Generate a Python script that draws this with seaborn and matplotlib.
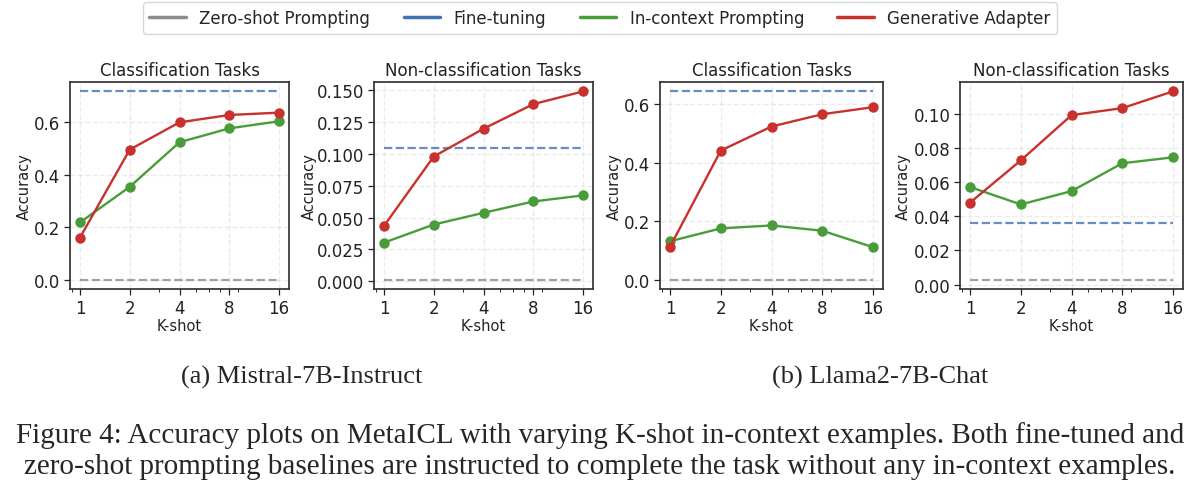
import matplotlib
matplotlib.use("Agg")
import matplotlib.pyplot as plt
from matplotlib.lines import Line2D
from matplotlib.ticker import MultipleLocator
import seaborn as sns

# K-shot values on the x axis
k_shots = [1, 2, 4, 8, 16]

# Mistral-7B-Instruct
mistral_cls_icl = [0.218, 0.354, 0.524, 0.577, 0.604]
mistral_cls_ga = [0.160, 0.496, 0.600, 0.628, 0.637]
mistral_cls_ft = 0.718
mistral_cls_zs = 0.0

mistral_gen_icl = [0.0303, 0.0445, 0.0537, 0.0626, 0.0674]
mistral_gen_ga = [0.0434, 0.0979, 0.1197, 0.1390, 0.1490]
mistral_gen_ft = 0.1047
mistral_gen_zs = 0.0013

# Llama2-7B-Chat
llama_cls_icl = [0.131, 0.175, 0.185, 0.167, 0.111]
llama_cls_ga = [0.113, 0.441, 0.523, 0.565, 0.589]
llama_cls_ft = 0.643
llama_cls_zs = 0.0

llama_gen_icl = [0.0571, 0.0469, 0.0547, 0.0710, 0.0745]
llama_gen_ga = [0.0480, 0.0727, 0.0992, 0.1033, 0.1131]
llama_gen_ft = 0.0359
llama_gen_zs = 0.0029

titles = ["Classification Tasks", "Non-classification Tasks",
          "Classification Tasks", "Non-classification Tasks"]
y_steps = [0.2, 0.025, 0.2, 0.02]
legend_labels = ["Zero-shot Prompting", "Fine-tuning",
                 "In-context Prompting", "Generative Adapter"]

C_ZS = "#8c8c8c"
C_FT = "#3f72b3"
C_ICL = "#4a9c3a"
C_GA = "#c8312e"

sns.set_theme(style="ticks")
plt.rcParams["font.family"] = ["DejaVu Sans"]

fig = plt.figure(figsize=(12, 4.89), dpi=100)

positions = [
    [70 / 1200, 199 / 489, 219 / 1200, 207 / 489],
    [374 / 1200, 199 / 489, 219 / 1200, 207 / 489],
    [660 / 1200, 199 / 489, 223 / 1200, 207 / 489],
    [960 / 1200, 199 / 489, 223 / 1200, 207 / 489],
]
ylabel_x = [-0.174, -0.26, -0.17, -0.22]

panels = [
    (mistral_cls_icl, mistral_cls_ga, mistral_cls_ft, mistral_cls_zs),
    (mistral_gen_icl, mistral_gen_ga, mistral_gen_ft, mistral_gen_zs),
    (llama_cls_icl, llama_cls_ga, llama_cls_ft, llama_cls_zs),
    (llama_gen_icl, llama_gen_ga, llama_gen_ft, llama_gen_zs),
]

for pos, title, step, lx, (icl, ga, ft, zs) in zip(positions, titles, y_steps,
                                                   ylabel_x, panels):
    ax = fig.add_axes(pos)
    ax.hlines(zs, k_shots[0], k_shots[-1], colors=C_ZS, linestyles="--",
              linewidth=1.6, alpha=0.8)
    ax.hlines(ft, k_shots[0], k_shots[-1], colors=C_FT, linestyles="--",
              linewidth=1.6, alpha=0.8)
    sns.lineplot(x=k_shots, y=icl, ax=ax, color=C_ICL, marker="o",
                 markersize=7.5, markeredgewidth=0, linewidth=1.7)
    sns.lineplot(x=k_shots, y=ga, ax=ax, color=C_GA, marker="o",
                 markersize=7.5, markeredgewidth=0, linewidth=1.7)
    ax.set_xscale("log")
    ax.set_xticks(k_shots)
    ax.set_xticklabels([str(k) for k in k_shots])
    ax.yaxis.set_major_locator(MultipleLocator(step))
    ax.set_title(title, fontsize=12, color="#222222", pad=5)
    ax.set_xlabel("K-shot", fontsize=10.5, color="#222222")
    ax.set_ylabel("Accuracy", fontsize=10.5, color="#222222")
    ax.xaxis.set_label_coords(0.5, -0.14)
    ax.yaxis.set_label_coords(lx, 0.5)
    ax.tick_params(which="major", labelsize=12, colors="#222222", pad=3,
                   length=4, width=0.9)
    ax.tick_params(which="minor", length=2.2, width=0.7, colors="#222222")
    ax.grid(True, linestyle="--", alpha=0.4)
    for s in ax.spines.values():
        s.set_color("#333333")

handles = [Line2D([0], [0], color=c, linewidth=2.5)
           for c in [C_ZS, C_FT, C_ICL, C_GA]]
fig.legend(handles, legend_labels, loc="upper center", ncol=4,
           bbox_to_anchor=(0.5, 1.01), fontsize=12, frameon=True,
           columnspacing=2.0, handlelength=2.2)

fig.text(302 / 1200, 1 - 377 / 489, "(a) Mistral-7B-Instruct", ha="center",
         va="center", fontsize=19, family="Liberation Serif")
fig.text(880 / 1200, 1 - 377 / 489, "(b) Llama2-7B-Chat", ha="center",
         va="center", fontsize=19, family="Liberation Serif")
fig.text(0.5, 1 - 436 / 489,
         "Figure 4: Accuracy plots on MetaICL with varying K-shot in-context examples. Both fine-tuned and",
         ha="center", va="center", fontsize=21, family="Liberation Serif")
fig.text(0.5, 1 - 467 / 489,
         "zero-shot prompting baselines are instructed to complete the task without any in-context examples.",
         ha="center", va="center", fontsize=21, family="Liberation Serif")

fig.savefig("out.png", dpi=100)
